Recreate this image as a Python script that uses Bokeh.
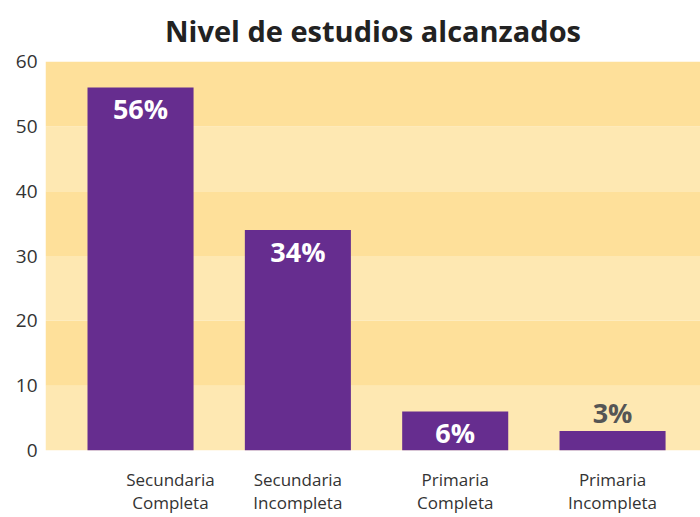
from bokeh.plotting import figure
from bokeh.models import Range1d, BoxAnnotation, Label, FixedTicker, ColumnDataSource
from bokeh.embed import file_html
from bokeh.resources import INLINE

categories = ["Secundaria\nCompleta", "Secundaria\nIncompleta", "Primaria\nCompleta", "Primaria\nIncompleta"]
values = [56, 34, 6, 3]
y_ticks = [0, 10, 20, 30, 40, 50, 60]

PURPLE = "#662D8F"
BAND_DARK = "#FEE09A"
BAND_LIGHT = "#FEE8B2"
FONT = "Open Sans"

xs = list(range(len(values)))

p = figure(width=700, height=517, output_backend="svg", toolbar_location=None,
           x_range=Range1d(-0.604, 3.559), y_range=Range1d(0, 60),
           min_border_left=45, min_border_right=0, min_border_top=61, min_border_bottom=67)

p.title.text = "Nivel de estudios alcanzados"
p.title.align = "center"
p.title.vertical_align = "top"
p.title.text_font = FONT
p.title.text_font_size = "29px"
p.title.text_font_style = "bold"
p.title.text_color = "#222222"
p.title.standoff = 20

p.outline_line_color = None
p.xgrid.visible = False
p.ygrid.visible = False
p.background_fill_color = None

# alternating horizontal bands
for i in range(len(y_ticks) - 1):
    p.add_layout(BoxAnnotation(bottom=y_ticks[i], top=y_ticks[i + 1],
                               fill_color=BAND_LIGHT if i % 2 == 0 else BAND_DARK,
                               fill_alpha=1, line_color=None, level="underlay"))

src = ColumnDataSource(dict(x=xs, top=values))
p.vbar(x="x", top="top", width=0.674, bottom=0, source=src, fill_color=PURPLE, line_color=None)

# value labels
for xi, v in zip(xs, values):
    inside = v >= 5
    p.add_layout(Label(x=xi, y=v, text=f"{v}%", text_align="center",
                       text_baseline="middle", y_offset=-21 if inside else 19,
                       text_color="white" if inside else "#555555",
                       text_font=FONT, text_font_size="27px", text_font_style="bold"))

# category labels on the x axis (first one sits a little right of its bar)
nudges = [0.19, 0, 0, 0]
tick_pos = [xi + n for xi, n in zip(xs, nudges)]
p.xaxis.ticker = FixedTicker(ticks=tick_pos)
p.xaxis.major_label_overrides = {t: c for t, c in zip(tick_pos, categories)}
p.xaxis.axis_line_color = None
p.xaxis.major_tick_line_color = None
p.xaxis.minor_tick_line_color = None
p.xaxis.major_tick_out = 0
p.xaxis.major_label_standoff = 17
p.xaxis.major_label_text_font = FONT
p.xaxis.major_label_text_font_size = "17px"
p.xaxis.major_label_text_color = "#333333"
p.xaxis.major_label_text_line_height = 1.0

p.yaxis.ticker = FixedTicker(ticks=y_ticks)
p.yaxis.axis_line_color = None
p.yaxis.major_tick_line_color = None
p.yaxis.minor_tick_line_color = None
p.yaxis.major_tick_out = 0
p.yaxis.major_label_standoff = 8
p.yaxis.major_label_text_font = FONT
p.yaxis.major_label_text_font_size = "19px"
p.yaxis.major_label_text_color = "#333333"

open("out.html", "w").write(file_html(p, INLINE))
